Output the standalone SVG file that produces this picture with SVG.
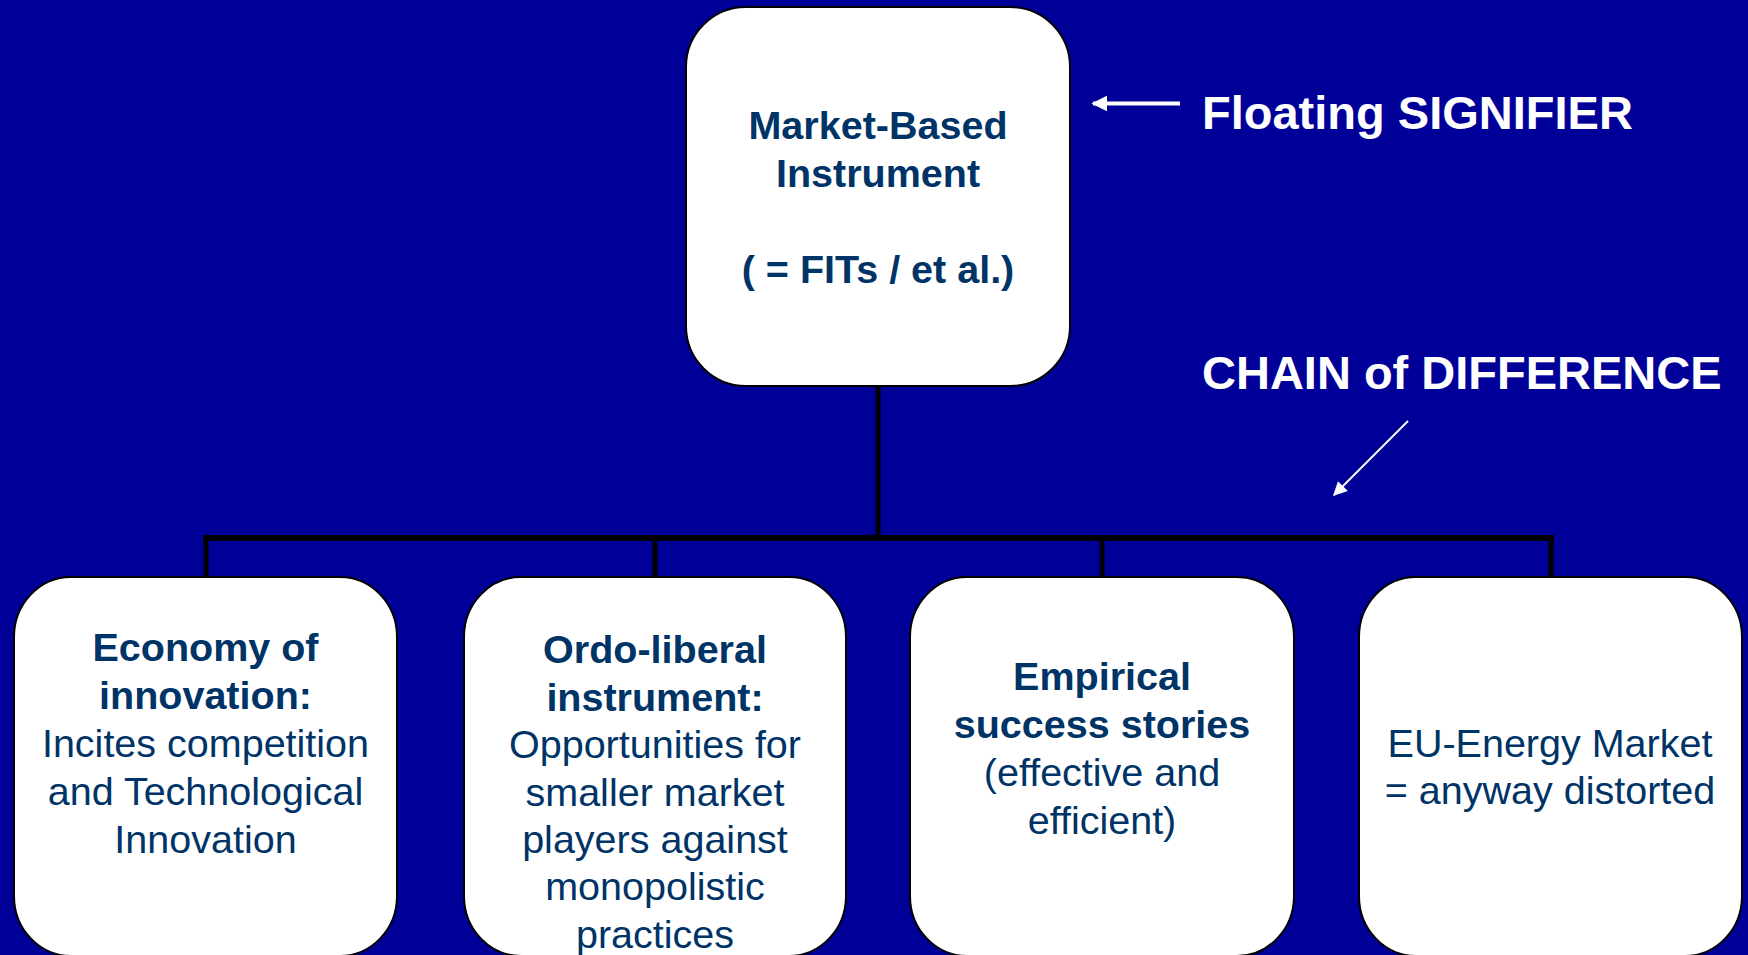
<svg xmlns="http://www.w3.org/2000/svg" width="1748" height="955" viewBox="0 0 1748 955">
<style>
.box{fill:#ffffff;stroke:#000000;stroke-width:2}
.t{font-family:"Liberation Sans",Arial,sans-serif;font-size:39.5px;fill:#003366;text-anchor:middle}
.b{font-weight:bold}
.w{font-family:"Liberation Sans",Arial,sans-serif;font-size:47px;font-weight:bold;fill:#ffffff}
.conn{stroke:#000000;fill:none}
</style>
<defs>
<marker id="ah" viewBox="0 0 10 10" refX="9" refY="5" markerWidth="4" markerHeight="4" markerUnits="strokeWidth" orient="auto">
<path d="M0,0 L10,5 L0,10 Z" fill="#ffffff"/>
</marker>
<marker id="ah2" viewBox="0 0 10 10" refX="9" refY="5" markerWidth="8" markerHeight="7" markerUnits="strokeWidth" orient="auto">
<path d="M0,0 L10,5 L0,10 Z" fill="#ffffff"/>
</marker>
</defs>
<rect width="1748" height="955" fill="#000099"/>
<g id="connectors">
<line class="conn" x1="878" y1="386" x2="878" y2="538" stroke-width="5"/>
<line class="conn" x1="203" y1="538" x2="1554" y2="538" stroke-width="6"/>
<line class="conn" x1="206" y1="538" x2="206" y2="578" stroke-width="5"/>
<line class="conn" x1="655" y1="538" x2="655" y2="578" stroke-width="5"/>
<line class="conn" x1="1102" y1="538" x2="1102" y2="578" stroke-width="5"/>
<line class="conn" x1="1551" y1="538" x2="1551" y2="578" stroke-width="5"/>
</g>
<g id="root">
<rect class="box" x="686" y="7" width="384" height="379" rx="60" ry="60"/>
<text class="t b" x="878"><tspan x="878" y="139">Market-Based</tspan><tspan x="878" y="187">Instrument</tspan><tspan x="878" y="283">( = FITs / et al.)</tspan></text>
</g>
<g id="floating">
<line x1="1180" y1="103.5" x2="1093" y2="103.5" stroke="#ffffff" stroke-width="4" marker-end="url(#ah)"/>
<text class="w" x="1202" y="129">Floating SIGNIFIER</text>
</g>
<g id="chain">
<text class="w" x="1202" y="389">CHAIN of DIFFERENCE</text>
<line x1="1408" y1="421" x2="1334" y2="495" stroke="#ffffff" stroke-width="2" marker-end="url(#ah2)"/>
</g>
<g id="n1">
<rect class="box" x="14" y="577" width="383" height="379" rx="57" ry="60"/>
<text class="t"><tspan class="b" x="205.5" y="661">Economy of</tspan><tspan class="b" x="205.5" y="709">innovation:</tspan><tspan x="205.5" y="757">Incites competition</tspan><tspan x="205.5" y="805">and Technological</tspan><tspan x="205.5" y="853">Innovation</tspan></text>
</g>
<g id="n2">
<rect class="box" x="464" y="577" width="382" height="379" rx="57" ry="60"/>
<text class="t"><tspan class="b" x="655" y="663">Ordo-liberal</tspan><tspan class="b" x="655" y="711">instrument:</tspan><tspan x="655" y="758">Opportunities for</tspan><tspan x="655" y="806">smaller market</tspan><tspan x="655" y="853">players against</tspan><tspan x="655" y="900">monopolistic</tspan><tspan x="655" y="948">practices</tspan></text>
</g>
<g id="n3">
<rect class="box" x="910" y="577" width="384" height="379" rx="57" ry="60"/>
<text class="t"><tspan class="b" x="1102" y="690">Empirical</tspan><tspan class="b" x="1102" y="738">success stories</tspan><tspan x="1102" y="786">(effective and</tspan><tspan x="1102" y="834">efficient)</tspan></text>
</g>
<g id="n4">
<rect class="box" x="1359" y="577" width="383" height="379" rx="57" ry="60"/>
<text class="t"><tspan x="1550" y="757">EU-Energy Market</tspan><tspan x="1550" y="804">= anyway distorted</tspan></text>
</g>
</svg>
